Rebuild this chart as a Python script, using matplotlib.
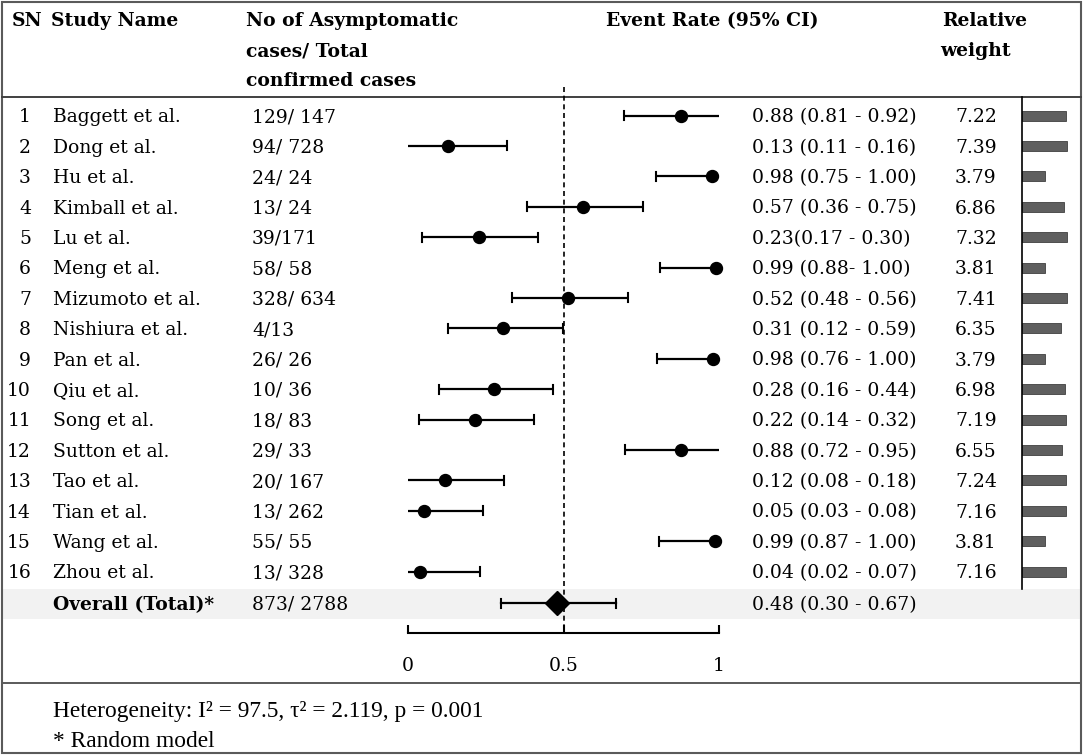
import matplotlib
matplotlib.use("Agg")
import matplotlib.pyplot as plt
from matplotlib.patches import Rectangle

# ---------------- data ----------------
sn = [str(i) for i in range(1, 17)]
studies = ["Baggett et al.", "Dong et al.", "Hu et al.", "Kimball et al.", "Lu et al.",
           "Meng et al.", "Mizumoto et al.", "Nishiura et al.", "Pan et al.", "Qiu et al.",
           "Song et al.", "Sutton et al.", "Tao et al.", "Tian et al.", "Wang et al.",
           "Zhou et al."]
cases = ["129/ 147", "94/ 728", "24/ 24", "13/ 24", "39/171", "58/ 58", "328/ 634",
         "4/13", "26/ 26", "10/ 36", "18/ 83", "29/ 33", "20/ 167", "13/ 262",
         "55/ 55", "13/ 328"]
ci_text = ["0.88 (0.81 - 0.92)", "0.13 (0.11 - 0.16)", "0.98 (0.75 - 1.00)",
           "0.57 (0.36 - 0.75)", "0.23(0.17 - 0.30)", "0.99 (0.88- 1.00)",
           "0.52 (0.48 - 0.56)", "0.31 (0.12 - 0.59)", "0.98 (0.76 - 1.00)",
           "0.28 (0.16 - 0.44)", "0.22 (0.14 - 0.32)", "0.88 (0.72 - 0.95)",
           "0.12 (0.08 - 0.18)", "0.05 (0.03 - 0.08)", "0.99 (0.87 - 1.00)",
           "0.04 (0.02 - 0.07)"]
weights = [7.22, 7.39, 3.79, 6.86, 7.32, 3.81, 7.41, 6.35, 3.79, 6.98, 7.19,
           6.55, 7.24, 7.16, 3.81, 7.16]
# plotted points and whisker ends (as drawn in the picture)
est = [0.878, 0.13, 0.977, 0.563, 0.228, 0.99, 0.514, 0.306, 0.98, 0.277,
       0.215, 0.878, 0.12, 0.05, 0.988, 0.04]
lo = [0.695, 0.0, 0.797, 0.383, 0.045, 0.81, 0.334, 0.128, 0.80, 0.10,
      0.035, 0.698, 0.0, 0.0, 0.807, 0.0]
hi = [1.0, 0.318, 1.0, 0.756, 0.418, 1.0, 0.707, 0.499, 1.0, 0.466,
      0.405, 1.0, 0.31, 0.24, 1.0, 0.23]
overall_label = "Overall (Total)*"
overall_cases = "873/ 2788"
overall_text = "0.48 (0.30 - 0.67)"
overall_est, overall_lo, overall_hi = 0.48, 0.30, 0.67
ref_value = 0.5
xticks = [0, 0.5, 1]
xticklabels = ["0", "0.5", "1"]
footer1 = "Heterogeneity: I\u00b2 = 97.5, \u03c4\u00b2 = 2.119, p = 0.001"
footer2 = "* Random model"

# ---------------- layout ----------------
W, H = 1084, 756
fig = plt.figure(figsize=(W / 100, H / 100), dpi=100)
ax = fig.add_axes([0, 0, 1, 1])
ax.set_xlim(0, W)
ax.set_ylim(H, 0)
ax.axis("off")

FONT = "DejaVu Serif"
FS = 13.5
row_y0, row_dy = 115.5, 30.4
ys = [row_y0 + i * row_dy for i in range(len(studies))]
y_over = 603
base_off = 6.8

# overall band
ax.add_patch(Rectangle((3, 589), 1077, 30, facecolor="#f2f2f2", edgecolor="none", zorder=0))
# frame and separators
ax.add_patch(Rectangle((2, 2), 1079, 751, facecolor="none", edgecolor="#5a5a5a", lw=1.5, zorder=5))
ax.plot([2, 1081], [97, 97], color="#404040", lw=1.4, zorder=5)
ax.plot([2, 1081], [683, 683], color="#5a5a5a", lw=1.4, zorder=5)

# headers
hkw = dict(family=FONT, fontsize=FS, fontweight="bold", va="baseline", ha="left")
ax.text(12, 26, "SN", **hkw)
ax.text(51, 26, "Study Name", **hkw)
ax.text(246, 26, "No of Asymptomatic", **hkw)
ax.text(246, 56, "cases/ Total", **hkw)
ax.text(246, 86, "confirmed cases", **hkw)
ax.text(606, 26, "Event Rate (95% CI)", **hkw)
ax.text(942, 26, "Relative", **hkw)
ax.text(940, 56, "weight", **hkw)

tkw = dict(family=FONT, fontsize=FS, va="baseline")
for i, y in enumerate(ys):
    ax.text(31, y + base_off, sn[i], ha="right", **tkw)
    ax.text(53, y + base_off, studies[i], ha="left", **tkw)
    ax.text(252, y + base_off, cases[i], ha="left", **tkw)
    ax.text(752, y + base_off, ci_text[i], ha="left", **tkw)
    ax.text(955, y + base_off, f"{weights[i]:.2f}", ha="left", **tkw)
ax.text(53, y_over + base_off, overall_label, ha="left", fontweight="bold", **tkw)
ax.text(252, y_over + base_off, overall_cases, ha="left", **tkw)
ax.text(752, y_over + base_off, overall_text, ha="left", **tkw)

ax.text(53, 717, footer1, family="Liberation Serif", fontsize=16.8, va="baseline", ha="left")
ax.text(53, 747, footer2, family="Liberation Serif", fontsize=16.8, va="baseline", ha="left")

# ---------------- forest ----------------
axf = fig.add_axes([408 / W, 0, 311 / W, 1])
axf.set_facecolor("none")
axf.set_xlim(0, 1)
axf.set_ylim(H, 0)
for s in ["top", "left", "right"]:
    axf.spines[s].set_visible(False)
axf.spines["bottom"].set_position(("data", 633))
axf.spines["bottom"].set_bounds(0, 1)
axf.spines["bottom"].set_linewidth(1.5)
axf.set_yticks([])
axf.set_xticks(xticks)
axf.set_xticklabels(xticklabels, family=FONT, fontsize=FS)
axf.tick_params(axis="x", direction="in", length=6, width=1.5, pad=17)

axf.plot([ref_value, ref_value], [87, 633], color="black", lw=1.2,
         ls=(0, (3, 2.2)), zorder=1, clip_on=False)

cap = 4.5
for i, y in enumerate(ys):
    axf.plot([lo[i], hi[i]], [y, y], color="black", lw=1.6, zorder=3, clip_on=False,
             solid_capstyle="butt")
    if lo[i] > 0.005:
        axf.plot([lo[i], lo[i]], [y - cap, y + cap], color="black", lw=1.5, zorder=3, clip_on=False)
    if hi[i] < 0.995:
        axf.plot([hi[i], hi[i]], [y - cap, y + cap], color="black", lw=1.5, zorder=3, clip_on=False)
    axf.plot([est[i]], [y], marker="o", ms=8.6, color="black", zorder=4, clip_on=False)

axf.plot([overall_lo, overall_hi], [y_over, y_over], color="black", lw=1.6, zorder=3, clip_on=False)
for v in (overall_lo, overall_hi):
    axf.plot([v, v], [y_over - cap, y_over + cap], color="black", lw=1.5, zorder=3, clip_on=False)
axf.plot([overall_est], [y_over], marker="D", ms=12.5, color="black", zorder=4, clip_on=False)

# ---------------- weights ----------------
axw = fig.add_axes([1022 / W, 0, 61 / W, 1])
axw.set_facecolor("none")
axw.set_xlim(0, 10)
axw.set_ylim(H, 0)
axw.axis("off")
axw.barh(ys, weights, height=10, left=0, color="#5f5f5f", edgecolor="#404040", lw=0.6, zorder=2)
axw.plot([0, 0], [97, 589], color="black", lw=1.2, zorder=3, clip_on=False)

fig.savefig("out.png", dpi=100)
